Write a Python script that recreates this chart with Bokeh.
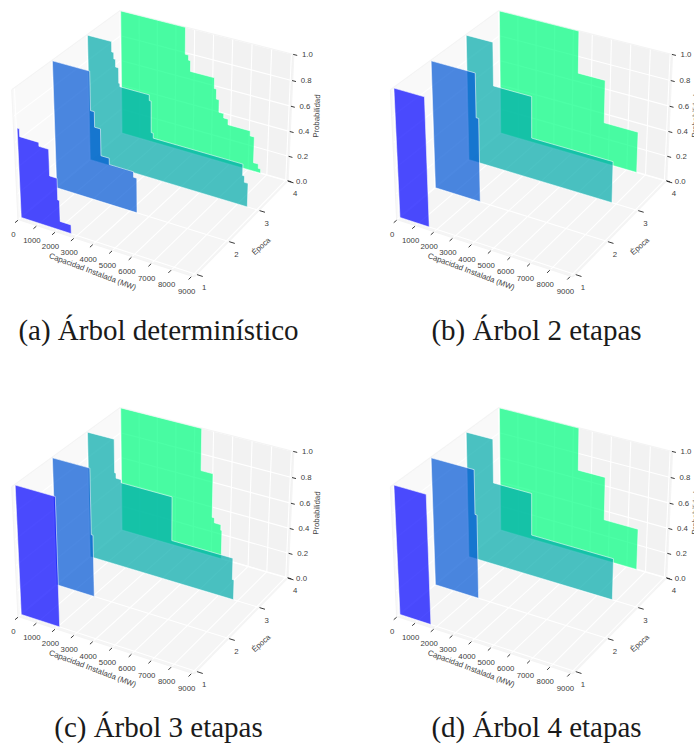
import numpy as np
from bokeh.plotting import figure
from bokeh.models import Range1d
from bokeh.core.properties import value
from bokeh.embed import file_html
from bokeh.resources import INLINE

# ---- data: (end of each step in MW, probability of the step)
EPOCHS = [1, 2, 3, 4]
COLORS = ["#0000ff", "#0055d4", "#00aaaa", "#00ff80"]

A_E1_X = [120, 1130, 1640, 2030, 2120, 2700]
A_E1_P = [0.70, 0.64, 0.61, 0.405, 0.236, 0.07]
A_E2_X = [1970, 2170, 2480, 2920, 4200, 4370]
A_E2_P = [1.0, 0.70, 0.58, 0.37, 0.32, 0.277]
A_E3_X = [1300, 1410, 1500, 1660, 1720, 3300, 3400, 3510, 8220, 8320, 8510]
A_E3_P = [1.0, 0.92, 0.87, 0.81, 0.69, 0.665, 0.62, 0.37, 0.33, 0.24, 0.19]
A_E4_X = [3530, 3710, 3820, 5110, 5230, 5380, 5640, 5880, 7070, 7290, 7550, 7680]
A_E4_P = [1.0, 0.79, 0.75, 0.665, 0.58, 0.50, 0.40, 0.365, 0.32, 0.28, 0.07, 0.035]

B_E1_X = [1590]
B_E1_P = [1.0]
B_E2_X = [2330, 2465]
B_E2_P = [1.0, 0.66]
B_E3_X = [1440, 3495, 7780]
B_E3_P = [1.0, 0.66, 0.33]
B_E4_X = [4310, 5745, 7545]
B_E4_P = [1.0, 0.67, 0.33]

C_E1_X = [2080]
C_E1_P = [1.0]
C_E2_X = [1980, 2070]
C_E2_P = [1.0, 0.49]
C_E3_X = [1440, 1515, 1790, 4505, 7705, 7790]
C_E3_P = [1.0, 0.74, 0.70, 0.675, 0.33, 0.16]
C_E4_X = [4390, 5030, 5150, 5505, 5565]
C_E4_P = [1.0, 0.67, 0.32, 0.28, 0.235]

D_E1_X = [1680]
D_E1_P = [1.0]
D_E2_X = [2270, 2375]
D_E2_P = [1.0, 0.66]
D_E3_X = [1440, 3495, 7800]
D_E3_P = [1.0, 0.66, 0.33]
D_E4_X = [4310, 5745, 7545]
D_E4_P = [1.0, 0.67, 0.33]

X_TICKS = [0, 1000, 2000, 3000, 4000, 5000, 6000, 7000, 8000, 9000]
Y_TICKS = [1, 2, 3, 4]
Z_TICKS = [0.0, 0.2, 0.4, 0.6, 0.8, 1.0]
X_LABEL = "Capacidad Instalada (MW)"
Y_LABEL = "Época"
Z_LABEL = "Probabilidad"

PANELS = [
    ("(a) Árbol determinístico", 0.0, 0.0, 158,
     [(A_E1_X, A_E1_P), (A_E2_X, A_E2_P), (A_E3_X, A_E3_P), (A_E4_X, A_E4_P)]),
    ("(b) Árbol 2 etapas", 378.7, 0.0, 157.3,
     [(B_E1_X, B_E1_P), (B_E2_X, B_E2_P), (B_E3_X, B_E3_P), (B_E4_X, B_E4_P)]),
    ("(c) Árbol 3 etapas", 0.0, 397.0, 158,
     [(C_E1_X, C_E1_P), (C_E2_X, C_E2_P), (C_E3_X, C_E3_P), (C_E4_X, C_E4_P)]),
    ("(d) Árbol 4 etapas", 378.7, 397.0, 157.3,
     [(D_E1_X, D_E1_P), (D_E2_X, D_E2_P), (D_E3_X, D_E3_P), (D_E4_X, D_E4_P)]),
]

# ---- the 3D view: elevation 30, azimuth -60, box 4:4:3
XLO, XHI = -40.0, 9120.0
YLO, YHI = 0.93, 4.01
ZLO, ZHI = 0.0, 1.0
A, C = 1.19, 0.87
U = np.array([0.8660, 0.5, 0.0])
V = np.array([-0.25, 0.4330, 0.8660])
W = np.array([0.4330, -0.75, 0.5])
SCALE, CX, CY = 1697.0, 155.0, 136.7


def proj(x, y, z, ox=0.0, oy=0.0):
    x, y, z = np.broadcast_arrays(np.asarray(x, float), np.asarray(y, float), np.asarray(z, float))
    d = np.stack([(x - XLO) / (XHI - XLO) * A - A / 2,
                  (y - YLO) / (YHI - YLO) * A - A / 2,
                  (z - ZLO) / (ZHI - ZLO) * C - C / 2], axis=-1)
    depth = 10.0 - d @ W
    return CX + ox + SCALE * (d @ U) / depth, CY + oy - SCALE * (d @ V) / depth


p = figure(width=694, height=744, x_range=Range1d(0, 694), y_range=Range1d(744, 0),
           output_backend="svg", toolbar_location=None, min_border=0,
           outline_line_color=None, background_fill_color="white")
p.axis.visible = False
p.grid.visible = False

FONT = value("Liberation Sans")
INK = "#404040"


def text(xs, ys, labels, size="7.8px", angle=0.0):
    p.text(xs, ys, text=labels, text_font=FONT, text_font_size=size, text_color=INK,
           text_align="center", text_baseline="middle", angle=angle, angle_units="deg")


def seg(a, b, ox, oy, color="white", width=1.1, alpha=1.0):
    xs, ys = proj([a[0], b[0]], [a[1], b[1]], [a[2], b[2]], ox, oy)
    p.line(xs, ys, line_color=color, line_width=width, line_alpha=alpha)


for title, ox, oy, tcx, series in PANELS:
    # panes
    for corners, col in [
        ([(XLO, YLO, ZLO), (XLO, YHI, ZLO), (XLO, YHI, ZHI), (XLO, YLO, ZHI)], "#f9f9f9"),
        ([(XLO, YHI, ZLO), (XHI, YHI, ZLO), (XHI, YHI, ZHI), (XLO, YHI, ZHI)], "#f2f2f2"),
        ([(XLO, YLO, ZLO), (XHI, YLO, ZLO), (XHI, YHI, ZLO), (XLO, YHI, ZLO)], "#f5f5f5"),
    ]:
        c = np.array(corners)
        xs, ys = proj(c[:, 0], c[:, 1], c[:, 2], ox, oy)
        p.patch(xs, ys, fill_color=col, line_color=None)

    # grid
    for t in X_TICKS:
        seg((t, YLO, ZLO), (t, YHI, ZLO), ox, oy)
        seg((t, YHI, ZLO), (t, YHI, ZHI), ox, oy)
    for t in Y_TICKS:
        seg((XLO, t, ZLO), (XHI, t, ZLO), ox, oy)
        seg((XLO, t, ZLO), (XLO, t, ZHI), ox, oy)
    for t in Z_TICKS:
        seg((XLO, YLO, t), (XLO, YHI, t), ox, oy)
        seg((XLO, YHI, t), (XHI, YHI, t), ox, oy)
    # pane edges
    for a, b in [((XLO, YLO, ZLO), (XHI, YLO, ZLO)), ((XHI, YLO, ZLO), (XHI, YHI, ZLO)),
                 ((XHI, YHI, ZLO), (XHI, YHI, ZHI)), ((XLO, YLO, ZLO), (XLO, YLO, ZHI)),
                 ((XLO, YLO, ZHI), (XLO, YHI, ZHI)), ((XLO, YHI, ZHI), (XHI, YHI, ZHI))]:
        seg(a, b, ox, oy, color="#f4f4f4", width=1.2)

    # ticks
    for t in X_TICKS:
        seg((t, YLO - 0.10, ZLO), (t, YLO - 0.02, ZLO), ox, oy, color="#222222", width=0.9)
    for t in Y_TICKS:
        seg((XHI + 20, t, ZLO), (XHI + 300, t, ZLO), ox, oy, color="#222222", width=0.9)
    for t in Z_TICKS:
        seg((XHI - 30, YHI, t), (XHI + 170, YHI, t), ox, oy, color="#222222", width=0.9)

    # epoch planes, back to front
    for ep, col, (xe, pr) in reversed(list(zip(EPOCHS, COLORS, series))):
        px, pz = [0.0], [0.0]
        start = 0.0
        for e, v in zip(xe, pr):
            px += [start, e]
            pz += [v, v]
            start = e
        px.append(start)
        pz.append(0.0)
        xs, ys = proj(px, ep, pz, ox, oy)
        p.patch(xs, ys, fill_color=col, fill_alpha=0.7, line_color="white", line_alpha=0.55, line_width=1.0)

    # tick labels
    xs, ys = proj(X_TICKS, YLO, ZLO, ox - 5.2, oy + 15.2)
    text(xs, ys, [str(t) for t in X_TICKS])
    xs, ys = proj(XHI, Y_TICKS, ZLO, ox + 7.5, oy + 12.6)
    text(xs, ys, [str(t) for t in Y_TICKS])
    xs, ys = proj(XHI, YHI, Z_TICKS, ox + 13.5, oy + 0.3)
    text(xs, ys, ["%.1f" % t for t in Z_TICKS])

    # axis titles
    xs, ys = proj(4550, YLO, ZLO, ox - 11.5, oy + 24.2)
    text([float(xs)], [float(ys)], [X_LABEL], angle=-20.7)
    xs, ys = proj(XHI, 2.5, ZLO, ox + 17, oy + 20.5)
    text([float(xs)], [float(ys)], [Y_LABEL], angle=42)
    xs, ys = proj(XHI, YHI, 0.5, ox + 26, oy - 3)
    text([float(xs)], [float(ys)], [Z_LABEL], angle=88)

    # caption
    p.text([tcx + ox], [329 + oy], text=[title], text_font=value("Liberation Serif"),
           text_font_size="29px", text_color="#1a1a1a", text_align="center", text_baseline="alphabetic")

open("out.html", "w").write(file_html(p, INLINE))
